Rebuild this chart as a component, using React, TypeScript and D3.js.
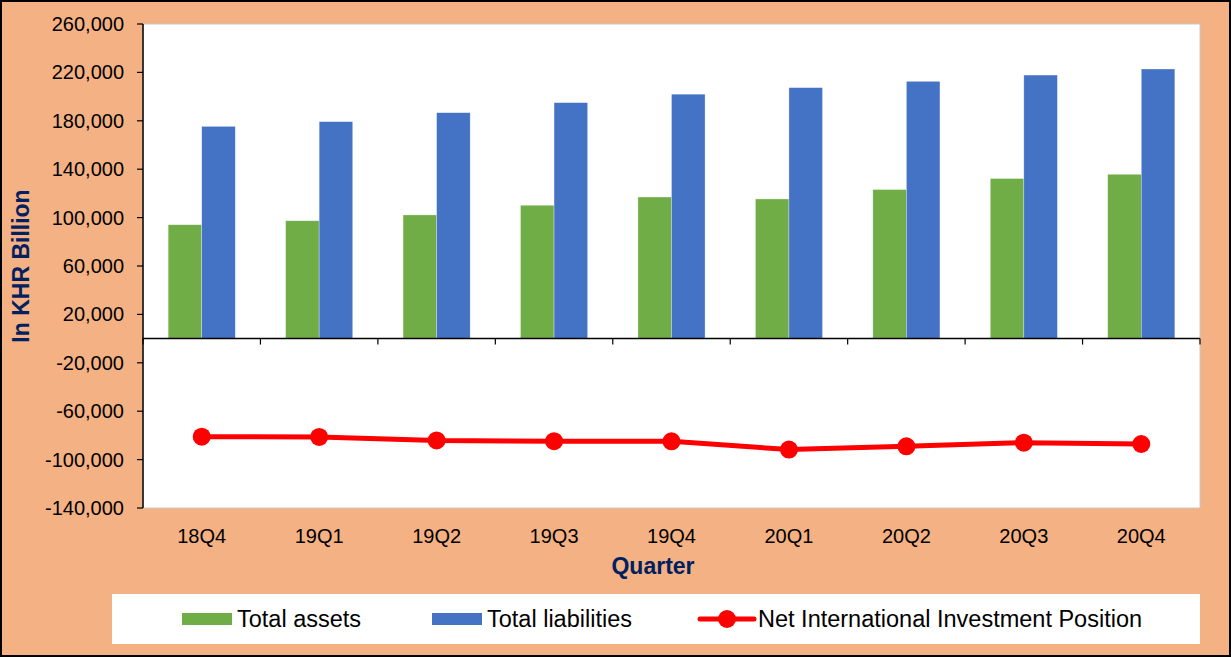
import React, { useEffect, useRef } from "react";
import * as d3 from "d3";

const quarters = ["18Q4", "19Q1", "19Q2", "19Q3", "19Q4", "20Q1", "20Q2", "20Q3", "20Q4"];
const totalAssets = [94100, 97400, 102200, 110200, 117000, 115400, 123200, 132300, 135800];
const totalLiabilities = [175400, 179300, 186700, 195000, 202000, 207400, 212600, 217800, 222800];
const niip = [-81100, -81300, -84200, -84800, -84900, -91700, -89000, -86000, -87100];
const yTicks = [-140000, -100000, -60000, -20000, 20000, 60000, 100000, 140000, 180000, 220000, 260000];
const seriesNames = ["Total assets", "Total liabilities", "Net International Investment Position"];

const W = 1231;
const H = 657;
const FONT = "'Liberation Sans', Arial, sans-serif";

const App = () => {
  const svgRef = useRef<SVGSVGElement>(null);

  useEffect(() => {
    const svg = d3.select(svgRef.current);
    svg.selectAll("*").remove();

    const left = 143, right = 1200, top = 24, bottom = 508;

    // background + outer border
    svg.append("rect").attr("x", 1).attr("y", 1).attr("width", W - 2).attr("height", H - 2)
      .attr("fill", "#F4B183").attr("stroke", "#000").attr("stroke-width", 2);

    // plot area
    svg.append("rect").attr("x", left).attr("y", top).attr("width", right - left).attr("height", bottom - top)
      .attr("fill", "#fff").attr("stroke", "#c8c8c8").attr("stroke-width", 1);

    const x = d3.scaleBand().domain(quarters).range([left, right]).padding(0);
    const inner = d3.scaleBand().domain(["a", "l"]).range([0, x.bandwidth()]).paddingInner(0).paddingOuter(0.75);
    const y = d3.scaleLinear().domain([-140000, 260000]).range([bottom, top]);

    const fmt = d3.formatLocale({ decimal: ".", thousands: ",", grouping: [3], currency: ["", ""], minus: "-" }).format(",");

    // bars
    const bars = [
      { key: "a", values: totalAssets, color: "#70AD47" },
      { key: "l", values: totalLiabilities, color: "#4472C4" },
    ];
    bars.forEach((s) => {
      svg.append("g").selectAll("rect").data(s.values).join("rect")
        .attr("x", (d, i) => (x(quarters[i]) as number) + (inner(s.key) as number))
        .attr("y", (d) => y(d))
        .attr("width", inner.bandwidth())
        .attr("height", (d) => y(0) - y(d))
        .attr("fill", s.color)
        .attr("stroke", "#ffffff")
        .attr("stroke-opacity", 0.5)
        .attr("stroke-width", 0.6);
    });

    // y axis
    const yAxis = svg.append("g");
    yAxis.append("line").attr("x1", left).attr("x2", left).attr("y1", top).attr("y2", bottom)
      .attr("stroke", "#000").attr("stroke-width", 1.5);
    yTicks.forEach((t) => {
      yAxis.append("line").attr("x1", left - 6).attr("x2", left).attr("y1", y(t)).attr("y2", y(t))
        .attr("stroke", "#000").attr("stroke-width", 1.2);
      yAxis.append("text").attr("x", 124).attr("y", y(t)).attr("dy", "0.35em")
        .attr("text-anchor", "end").attr("font-family", FONT).attr("font-size", 20).attr("fill", "#000")
        .text(fmt(t));
    });

    // zero axis with category ticks
    const xAxis = svg.append("g");
    xAxis.append("line").attr("x1", left).attr("x2", right).attr("y1", y(0)).attr("y2", y(0))
      .attr("stroke", "#000").attr("stroke-width", 1.5);
    d3.range(quarters.length + 1).forEach((i) => {
      const xx = left + i * x.step();
      xAxis.append("line").attr("x1", xx).attr("x2", xx).attr("y1", y(0)).attr("y2", y(0) + 6)
        .attr("stroke", "#000").attr("stroke-width", 1.2);
    });
    quarters.forEach((q) => {
      xAxis.append("text").attr("x", (x(q) as number) + x.bandwidth() / 2).attr("y", 543)
        .attr("text-anchor", "middle").attr("font-family", FONT).attr("font-size", 20).attr("fill", "#000")
        .text(q);
    });

    // line series
    const line = d3.line<number>()
      .x((d, i) => (x(quarters[i]) as number) + x.bandwidth() / 2)
      .y((d) => y(d));
    svg.append("path").datum(niip).attr("d", line).attr("fill", "none")
      .attr("stroke", "#FF0000").attr("stroke-width", 5).attr("stroke-linejoin", "round");
    svg.append("g").selectAll("circle").data(niip).join("circle")
      .attr("cx", (d, i) => (x(quarters[i]) as number) + x.bandwidth() / 2)
      .attr("cy", (d) => y(d))
      .attr("r", 9)
      .attr("fill", "#FF0000");

    // axis titles
    svg.append("text").attr("transform", "translate(29,266) rotate(-90)")
      .attr("text-anchor", "middle").attr("font-family", FONT).attr("font-size", 23).attr("font-weight", "bold")
      .attr("fill", "#002060").text("In KHR Billion");
    svg.append("text").attr("x", 653).attr("y", 574)
      .attr("text-anchor", "middle").attr("font-family", FONT).attr("font-size", 23).attr("font-weight", "bold")
      .attr("fill", "#002060").text("Quarter");

    // legend
    const lg = svg.append("g");
    lg.append("rect").attr("x", 112).attr("y", 594).attr("width", 1088).attr("height", 50).attr("fill", "#fff");
    const ly = 619;
    lg.append("rect").attr("x", 182).attr("y", ly - 6).attr("width", 50).attr("height", 12).attr("fill", "#70AD47");
    lg.append("text").attr("x", 237).attr("y", ly).attr("dy", "0.35em").attr("font-family", FONT)
      .attr("font-size", 23.5).attr("fill", "#000").text(seriesNames[0]);
    lg.append("rect").attr("x", 432).attr("y", ly - 6).attr("width", 50).attr("height", 12).attr("fill", "#4472C4");
    lg.append("text").attr("x", 487).attr("y", ly).attr("dy", "0.35em").attr("font-family", FONT)
      .attr("font-size", 23.5).attr("fill", "#000").text(seriesNames[1]);
    lg.append("line").attr("x1", 700).attr("x2", 754).attr("y1", ly).attr("y2", ly)
      .attr("stroke", "#FF0000").attr("stroke-width", 5).attr("stroke-linecap", "round");
    lg.append("circle").attr("cx", 727).attr("cy", ly).attr("r", 9).attr("fill", "#FF0000");
    lg.append("text").attr("x", 758).attr("y", ly).attr("dy", "0.35em").attr("font-family", FONT)
      .attr("font-size", 23.5).attr("fill", "#000").text(seriesNames[2]);
  }, []);

  return (
    <svg
      ref={svgRef}
      width={W}
      height={H}
      style={{ position: "absolute", left: 0, top: 0, display: "block" }}
    ></svg>
  );
};

export default App;
